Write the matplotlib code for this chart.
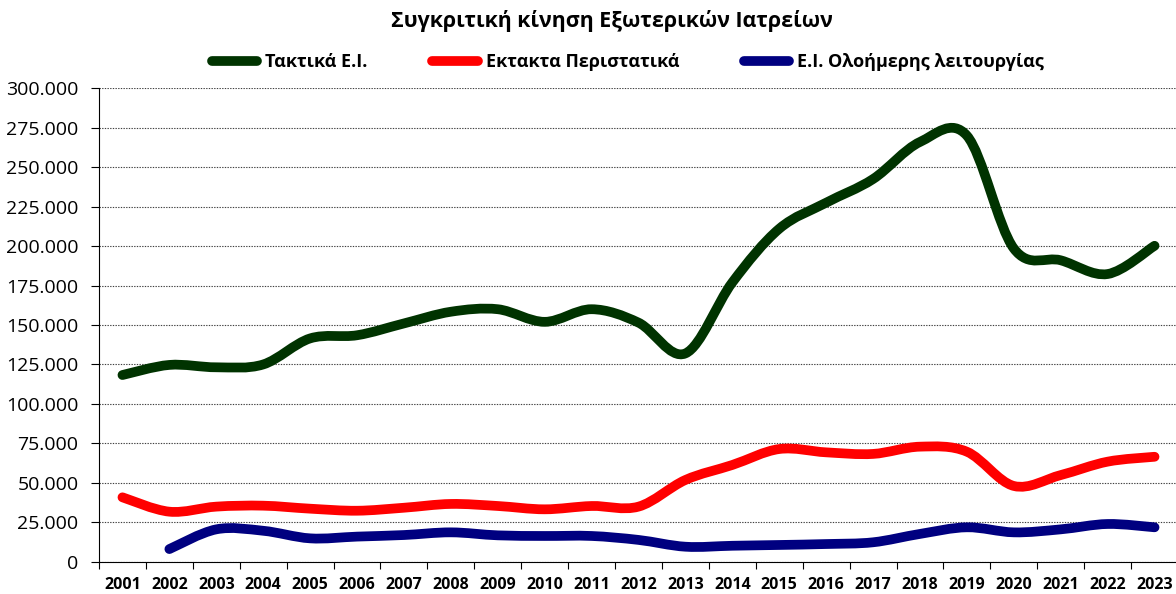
import numpy as np
import matplotlib
matplotlib.use("Agg")
import matplotlib.pyplot as plt
from matplotlib.path import Path
from matplotlib.patches import PathPatch
from matplotlib.lines import Line2D
from matplotlib.ticker import FuncFormatter, MultipleLocator, FixedLocator

plt.rcParams['font.family'] = ['Open Sans', 'DejaVu Sans']

years = [str(y) for y in range(2001, 2024)]
taktika = [118300, 124700, 123200, 125000, 141500, 143500, 151000, 158400, 160000,
           152000, 160000, 151500, 132000, 177000, 211000, 227500, 242500, 266000,
           270000, 198500, 191000, 182300, 200200]
ektakta = [40800, 31700, 34900, 35500, 33600, 32300, 34200, 36600, 35300, 33200,
           35300, 34900, 51800, 61300, 71400, 69300, 68300, 72900, 69700, 48000,
           54900, 63400, 66500]
olohmeres = [None, 8000, 20500, 19600, 14800, 15900, 16900, 18600, 16700, 16300,
             16300, 13800, 9500, 10100, 10600, 11200, 12300, 17600, 21800, 18600,
             20500, 23900, 21800]

series_names = ['Τακτικά Ε.Ι.', 'Εκτακτα Περιστατικά', 'Ε.Ι. Ολοήμερης λειτουργίας']
colors = ['#003300', '#FF0000', '#000080']

fig = plt.figure(figsize=(11.76, 5.94), dpi=100)
ax = fig.add_axes([99/1176, 32.3/594, 1079/1176, 473.4/594])


def smooth_path(xs, ys):
    pts = [(x, y) for x, y in zip(xs, ys) if y is not None]
    P = np.array(pts, dtype=float)
    n = len(P)
    verts = [P[0]]
    codes = [Path.MOVETO]
    for i in range(n - 1):
        p_prev = P[i - 1] if i > 0 else P[i]
        p_next2 = P[i + 2] if i + 2 < n else P[i + 1]
        c1 = P[i] + (P[i + 1] - p_prev) / 6.0
        c2 = P[i + 1] - (p_next2 - P[i]) / 6.0
        verts += [c1, c2, P[i + 1]]
        codes += [Path.CURVE4] * 3
    return Path(verts, codes)


xs = list(range(len(years)))
handles = []
for vals, col, name in zip([taktika, ektakta, olohmeres], colors, series_names):
    patch = PathPatch(smooth_path(xs, vals), facecolor='none', edgecolor=col,
                      lw=7, capstyle='round', joinstyle='round', zorder=3)
    ax.add_patch(patch)
    handles.append(Line2D([], [], color=col, lw=7, solid_capstyle='round', label=name))

ax.set_xlim(-0.5, len(years) - 0.5)
ax.set_ylim(0, 300000)

ax.yaxis.set_major_locator(MultipleLocator(25000))
ax.yaxis.set_major_formatter(FuncFormatter(lambda v, p: f"{int(v):,}".replace(',', '.')))
ax.tick_params(axis='y', direction='out', length=5.8, width=0.8, pad=9, labelsize=14,
               colors='black')

ax.xaxis.set_major_locator(FixedLocator(xs))
ax.set_xticklabels(years, fontweight='bold', fontsize=11.5)
ax.xaxis.set_minor_locator(FixedLocator(np.arange(-0.5, len(years), 1.0)))
ax.tick_params(axis='x', which='major', length=0, pad=11)
ax.tick_params(axis='x', which='minor', direction='out', length=5, width=0.8)

for s in ['top', 'right']:
    ax.spines[s].set_visible(False)
for s in ['left', 'bottom']:
    ax.spines[s].set_color('black')
    ax.spines[s].set_linewidth(0.8)

ax.yaxis.grid(True, color='#404040', linestyle=(0, (1.2, 1.2)), linewidth=0.8)
ax.set_axisbelow(True)

fig.text(0.52, 1 - 21/594, 'Συγκριτική κίνηση Εξωτερικών Ιατρείων', ha='center', va='center',
         fontsize=15.4, fontweight='bold')

fig.legend(handles=handles, loc='center', bbox_to_anchor=(0.534, 1 - 62/594), ncol=3,
           frameon=False, handlelength=2.5, handletextpad=0.44, columnspacing=3.6,
           prop={'weight': 'bold', 'size': 13})

fig.savefig('out.png', dpi=100)
